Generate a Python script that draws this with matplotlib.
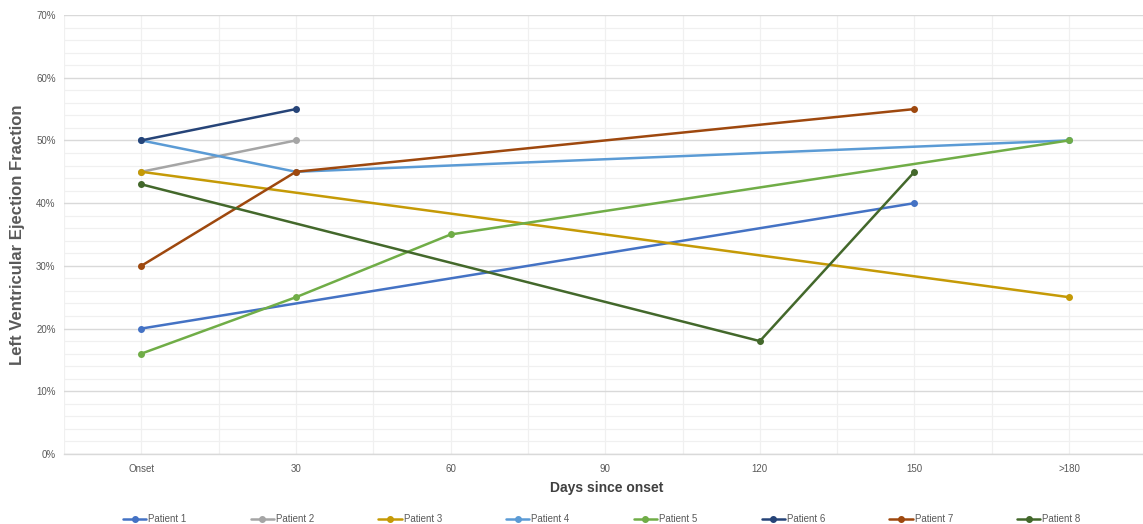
import matplotlib
matplotlib.use("Agg")
import matplotlib.pyplot as plt
from matplotlib.ticker import FixedLocator, FuncFormatter, MultipleLocator

# Time points on the category axis
categories = ["Onset", "30", "60", "90", "120", "150", ">180"]

# LVEF measurements (%) per patient: (category index, value)
p1_idx, p1_val = [0, 5], [20, 40]
p2_idx, p2_val = [0, 1], [45, 50]
p3_idx, p3_val = [0, 6], [45, 25]
p4_idx, p4_val = [0, 1, 6], [50, 45, 50]
p5_idx, p5_val = [0, 1, 2, 6], [16, 25, 35, 50]
p6_idx, p6_val = [0, 1], [50, 55]
p7_idx, p7_val = [0, 1, 5], [30, 45, 55]
p8_idx, p8_val = [0, 4, 5], [43, 18, 45]

patients = [
    ("Patient 1", p1_idx, p1_val, "#4472C4"),
    ("Patient 2", p2_idx, p2_val, "#A5A5A5"),
    ("Patient 3", p3_idx, p3_val, "#C59A06"),
    ("Patient 4", p4_idx, p4_val, "#5B9BD5"),
    ("Patient 5", p5_idx, p5_val, "#70AD47"),
    ("Patient 6", p6_idx, p6_val, "#264478"),
    ("Patient 7", p7_idx, p7_val, "#9E480E"),
    ("Patient 8", p8_idx, p8_val, "#43682B"),
]

plt.rcParams["font.family"] = ["Liberation Sans", "DejaVu Sans"]

fig = plt.figure(figsize=(11.43, 5.24), dpi=100)
ax = fig.add_axes([0.056, 0.1336, 0.947, 0.8378])

for name, idx, val, color in patients:
    ax.plot(
        idx,
        val,
        color=color,
        linewidth=1.8,
        marker="o",
        markersize=4,
        label=name,
        solid_capstyle="round",
        zorder=3,
    )

ax.set_xlim(-0.5, 6.5)
ax.set_ylim(0, 70)

# Horizontal grid: major every 10 %, minor every 2 %
ax.yaxis.set_major_locator(MultipleLocator(10))
ax.yaxis.set_minor_locator(MultipleLocator(2))
ax.yaxis.set_major_formatter(FuncFormatter(lambda v, _: f"{v:.0f}%"))
ax.grid(which="major", axis="y", color="#D9D9D9", linewidth=1.0, zorder=0)
ax.grid(which="minor", axis="y", color="#F0F0F0", linewidth=0.9, zorder=0)

# Vertical grid at categories and halfway between them
ax.set_xticks(range(len(categories)))
ax.set_xticklabels(categories)
ax.xaxis.set_minor_locator(FixedLocator([i + 0.5 for i in range(-1, len(categories))]))
ax.grid(which="major", axis="x", color="#F0F0F0", linewidth=0.9, zorder=0)
ax.grid(which="minor", axis="x", color="#F0F0F0", linewidth=0.9, zorder=0)

for side in ["top", "right", "left"]:
    ax.spines[side].set_visible(False)
ax.spines["bottom"].set_color("#D9D9D9")
ax.spines["bottom"].set_linewidth(1.0)

ax.tick_params(which="both", length=0)
ax.tick_params(axis="y", labelsize=7, labelcolor="#595959", pad=6)
ax.tick_params(axis="x", labelsize=7, labelcolor="#595959", pad=7)

ax.set_ylabel(
    "Left Ventricular Ejection Fraction",
    fontsize=12,
    fontweight="bold",
    color="#595959",
)
ax.yaxis.set_label_coords(-0.043, 0.5)
ax.set_xlabel(
    "Days since onset",
    fontsize=10,
    fontweight="bold",
    color="#404040",
)
ax.xaxis.set_label_coords(0.501, -0.078)
ax.xaxis.label.set_va("center")
ax.yaxis.label.set_va("center")

leg = fig.legend(
    loc="lower left",
    bbox_to_anchor=(0.1, -0.017),
    ncol=8,
    frameon=False,
    fontsize=7,
    handlelength=2.4,
    handletextpad=0.2,
    columnspacing=6.6,
)
for text in leg.get_texts():
    text.set_color("#595959")

fig.savefig("out.png", dpi=100, facecolor="white")
plt.close(fig)
